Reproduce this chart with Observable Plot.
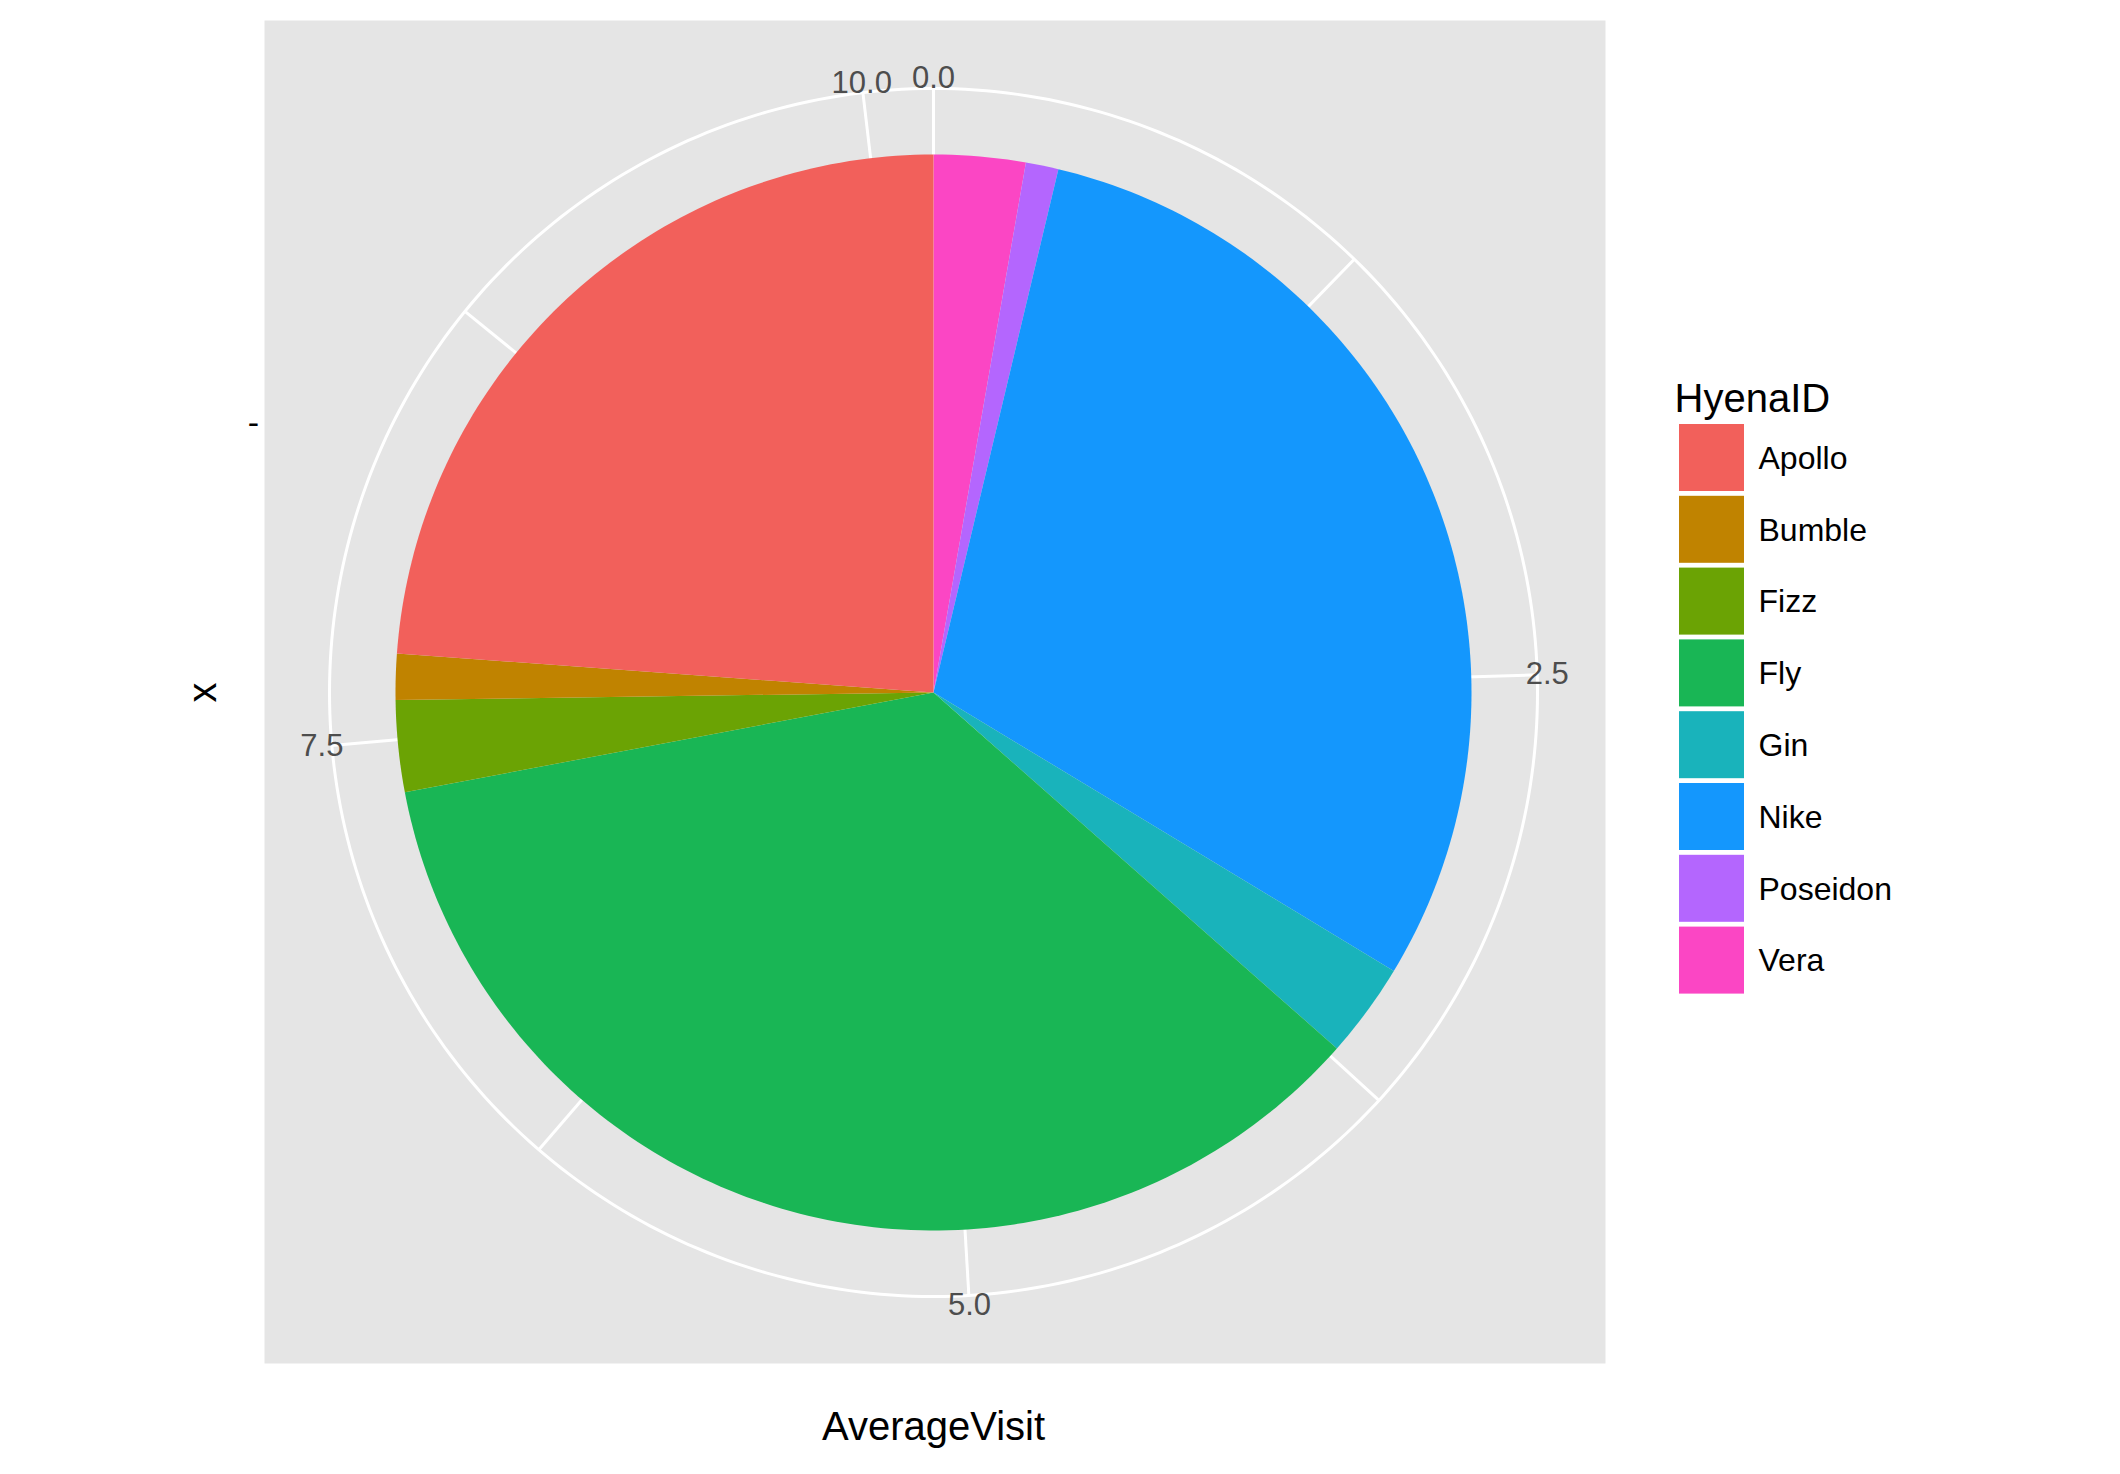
<!DOCTYPE html>
<html>
<head>
<meta charset="utf-8">
<script src="https://cdn.jsdelivr.net/npm/d3@7"></script>
<script src="https://cdn.jsdelivr.net/npm/@observablehq/plot@0.6"></script>
<style>body{margin:0;background:#fff;font-family:"Liberation Sans",Arial,sans-serif}</style>
</head>
<body>
<div id="chart"></div>
<script>
// slices in clockwise drawing order (ggplot stacks reverse alphabetically)
const hyenas = ["Vera", "Poseidon", "Nike", "Gin", "Fly", "Fizz", "Bumble", "Apollo"]
const visits = [0.28, 0.10, 3.05, 0.29, 3.62, 0.28, 0.14, 2.43]
const legendOrder = ["Apollo", "Bumble", "Fizz", "Fly", "Gin", "Nike", "Poseidon", "Vera"]
const colors = ["#F2605B", "#C08300", "#6BA304", "#19B655", "#19B3BB", "#1497FD", "#B466FE", "#FB46C4"]
const majorBreaks = [0, 2.5, 5, 7.5, 10]
const minorBreaks = [1.25, 3.75, 6.25, 8.75]

const total = d3.sum(visits)
const R = 538, Rgrid = 604, Rlab = 614
const pos = (t, r) => {
  const a = t / total * 2 * Math.PI
  return [r * Math.sin(a), -r * Math.cos(a)]
}

// wedge outlines
const wedges = []
let cum = 0
hyenas.forEach((h, i) => {
  const t0 = cum, t1 = cum + visits[i]
  wedges.push({id: h, x: 0, y: 0})
  const n = Math.max(2, Math.ceil((t1 - t0) / total * 360))
  for (let k = 0; k <= n; k++) {
    const [x, y] = pos(t0 + (t1 - t0) * k / n, R)
    wedges.push({id: h, x, y})
  }
  wedges.push({id: h, x: 0, y: 0})
  cum = t1
})

const circle = d3.range(0, 361).map(k => {
  const a = k / 180 * Math.PI
  return {x: Rgrid * Math.sin(a), y: -Rgrid * Math.cos(a)}
})
const gridLines = [...majorBreaks, ...minorBreaks].map(b => ({b, x1: 0, y1: 0, x2: pos(b, Rgrid)[0], y2: pos(b, Rgrid)[1]}))
const labels = majorBreaks.map(b => ({text: b.toFixed(1), x: pos(b, Rlab)[0], y: pos(b, Rlab)[1]}))

const legend = legendOrder.map((h, i) => ({id: h, y: -270 + i * 71.8}))

const chart = Plot.plot({
  width: 2120, height: 1474,
  marginLeft: 264, marginRight: 515, marginTop: 20, marginBottom: 111,
  x: {domain: [-669, 672], axis: null},
  y: {domain: [671, -672], axis: null},
  color: {domain: legendOrder, range: colors},
  style: {fontFamily: "Liberation Sans, Arial, sans-serif"},
  marks: [
    Plot.frame({fill: "#e5e5e5", stroke: null}),
    Plot.link(gridLines, {x1: "x1", y1: "y1", x2: "x2", y2: "y2", stroke: "white", strokeWidth: 3}),
    Plot.line(circle, {x: "x", y: "y", stroke: "white", strokeWidth: 3}),
    Plot.line(wedges, {x: "x", y: "y", z: "id", fill: "id", stroke: "none", curve: "linear"}),
    Plot.text(labels, {x: "x", y: "y", text: "text", fontSize: 31, fill: "#4d4d4d"}),
    // legend
    Plot.text(["HyenaID"], {x: 741, y: -293, text: d => d, fontSize: 40, textAnchor: "start", fill: "black", clip: false}),
    Plot.rect(legend, {x1: 746, x2: 811, y1: d => d.y + 2, y2: d => d.y + 69, fill: "id", clip: false}),
    Plot.text(legend, {x: 825, y: d => d.y + 36, text: "id", fontSize: 32, textAnchor: "start", fill: "black", clip: false}),
    // axis titles
    Plot.text(["AverageVisit"], {x: 0, y: 735, text: d => d, fontSize: 40, fill: "black", clip: false}),
    Plot.text(["x"], {x: -730, y: 0, text: d => d, fontSize: 40, rotate: -90, fill: "black", clip: false}),
    Plot.text(["-"], {x: -680, y: -269, text: d => d, fontSize: 34, fill: "black", clip: false})
  ]
})
document.getElementById("chart").append(chart)
</script>
</body>
</html>
